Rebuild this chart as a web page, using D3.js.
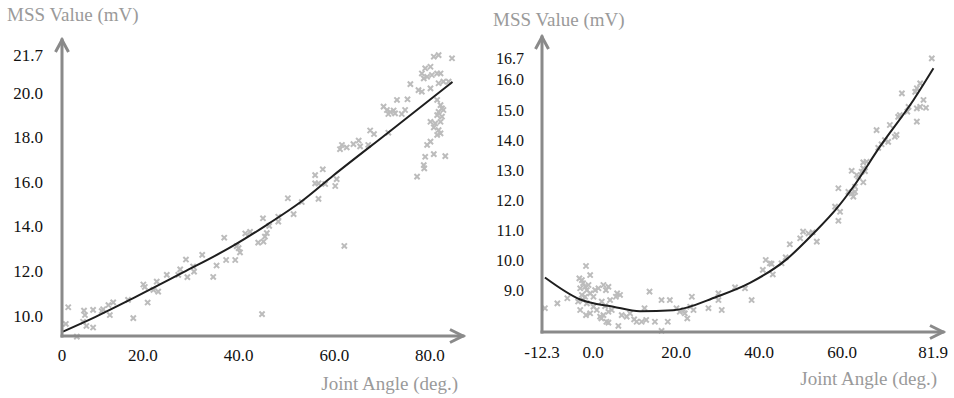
<!DOCTYPE html>
<html><head><meta charset="utf-8">
<script src="https://cdn.jsdelivr.net/npm/d3@7"></script>
<style>body{margin:0;background:#fff}svg{display:block}</style>
</head><body><svg id="c" width="954" height="398"></svg>
<script>
// ---------- data ----------
const yTitle = "MSS Value (mV)";
const xTitle = "Joint Angle (deg.)";

const leftXTicks = [3.1, 20, 40, 60, 80];
const leftXTickLabels = ["0", "20.0", "40.0", "60.0", "80.0"];
const leftYTicks = [21.7, 20, 18, 16, 14, 12, 10];

const rightXTicks = [-12.3, 0, 20, 40, 60, 81.9];
const rightXTickLabels = ["-12.3", "0.0", "20.0", "40.0", "60.0", "81.9"];
const rightYTicks = [16.7, 16, 15, 14, 13, 12, 11, 10, 9];

// [joint angle, MSS value]
const leftPoints = [
[4.4,10.39],[3.9,9.64],[7.7,10.24],[7.9,10.04],[7.5,9.74],[8.2,9.55],[9.6,9.48],[9.6,10.27],[11.4,10.22],[11.7,10.30],
[12.8,10.49],[13.1,10.04],[13.8,10.61],[16.9,10.72],[18.0,9.90],[20.1,11.41],[20.4,11.30],[21.0,10.60],[22.2,11.17],[22.9,11.54],
[23.2,11.09],[25.0,11.84],[27.4,11.84],[27.8,12.09],[29.0,12.53],[29.3,11.74],[30.5,12.22],[30.7,11.99],[32.4,12.74],[34.7,11.75],
[35.4,12.26],[37.0,13.51],[37.4,12.51],[39.3,12.51],[39.6,13.13],[40.0,13.04],[40.3,12.85],[41.4,13.70],[42.4,13.77],[44.1,13.29],
[44.9,10.08],[45.1,14.38],[45.2,13.33],[45.5,13.56],[45.9,13.72],[46.4,14.04],[48.3,14.45],[48.3,14.23],[50.3,15.28],[51.5,14.57],
[53.2,15.11],[56.0,16.32],[56.0,15.95],[56.7,15.95],[56.7,15.25],[57.6,16.58],[58.1,15.92],[60.2,15.83],[60.5,16.14],[62.1,13.14],
[61.2,17.48],[61.6,17.67],[62.6,17.56],[64.0,17.71],[65.1,17.87],[65.4,17.61],[67.1,17.67],[67.5,18.32],[68.3,18.16],[70.3,19.39],
[71.0,19.24],[71.7,19.15],[72.4,19.22],[71.3,19.06],[72.7,19.09],[71.3,18.22],[73.1,19.69],[74.1,19.06],[74.8,19.24],[75.3,19.72],
[75.9,20.40],[77.6,20.13],[78.3,20.06],[80.1,20.21],[77.3,16.25],[79.0,21.11],[80.1,21.18],[78.3,20.88],[78.7,20.66],[79.4,20.73],
[80.4,20.81],[81.5,20.88],[82.2,20.88],[80.8,21.63],[81.8,21.70],[84.6,21.56],[81.8,20.44],[82.8,20.51],[83.9,20.51],[81.5,19.69],
[82.2,19.46],[82.5,19.31],[81.8,19.16],[82.8,19.24],[81.5,19.01],[82.5,18.94],[82.2,18.71],[81.1,18.64],[80.1,18.71],[80.8,18.46],
[81.8,18.34],[82.2,18.19],[81.5,18.12],[80.1,17.82],[79.4,17.67],[79.0,17.14],[80.8,17.26],[83.2,17.17],[78.7,16.77],[78.8,16.62],
[6.2,9.07]
];
const leftTrend = [
[3.3,9.30],[10,9.95],[18,10.80],[28.4,11.95],[38.9,13.15],[46,14.10],[52.9,15.10],[59.8,16.30],[71.7,18.30],[84.7,20.50]
];

const rightPoints = [
[-11.6,8.43],[-8.6,8.59],[-6.2,8.76],[-1.7,9.83],[-0.7,9.53],[-3.3,9.42],[-2.7,9.36],[-2.4,9.26],[-3.1,9.09],[-1.9,9.14],
[-1.1,9.20],[-1.5,9.03],[-0.7,8.92],[-2.7,8.87],[-1.9,8.81],[0.1,8.81],[0.5,9.03],[1.3,9.09],[2.5,9.20],[3.1,9.03],
[3.7,9.14],[-2.4,8.70],[-3.6,8.65],[-1.5,8.59],[-3.1,8.37],[-1.7,8.20],[-0.7,8.26],[0.1,8.48],[0.9,8.37],[2.1,8.65],
[2.9,8.50],[2.5,8.20],[1.7,8.15],[3.7,8.31],[4.5,8.37],[4.1,8.70],[5.8,8.92],[6.5,8.87],[5.5,8.81],[3.7,7.95],
[6.1,7.84],[6.9,8.20],[8.1,8.15],[8.9,8.26],[9.9,8.06],[10.5,7.98],[11.7,7.98],[12.8,8.04],[13.6,8.98],[14.9,7.98],
[16.5,7.68],[18.0,7.98],[16.5,8.70],[18.5,8.70],[20.1,8.43],[20.9,8.31],[22.1,8.26],[22.7,8.09],[23.4,8.48],[24.2,8.37],
[23.8,8.81],[21.9,8.37],[27.8,8.43],[31.0,8.37],[30.2,8.92],[30.2,8.70],[34.2,9.12],[36.6,9.09],[38.2,8.70],[3.2,7.98],
[2.0,8.09],[12.4,8.43],
[40.9,9.70],[41.6,10.03],[42.6,9.92],[43.3,9.55],[43.0,9.90],[45.4,9.92],[46.4,10.12],[47.4,10.55],[49.9,10.75],[50.6,10.97],
[51.9,10.91],[52.9,10.95],[53.9,10.64],[58.3,11.80],[59.5,11.63],[59.1,11.33],[59.1,12.41],[62.3,12.99],[63.5,12.85],[63.1,12.46],
[62.7,12.13],[81.6,16.72],[78.8,15.89],[78.0,15.73],[77.6,15.61],[74.4,15.56],[79.6,15.34],[78.8,15.11],[80.2,15.08],[78.0,15.06],
[78.0,14.62],[76.0,15.11],[75.7,14.95],[73.5,14.78],[73.9,14.84],[71.5,14.51],[72.7,14.12],[73.1,14.18],[68.3,14.34],[70.3,14.01],
[71.1,13.95],[69.5,13.87],[68.7,13.75],[65.9,13.29],[65.1,13.27],[65.1,13.07],[64.7,12.96],[65.5,12.98],[63.9,12.79],[65.1,12.61],
[63.1,12.29],[61.5,12.29],[62.3,12.24]
];
const rightTrend = [
[-11.6,9.45],[-3.1,8.72],[4.9,8.48],[11.3,8.33],[19.3,8.36],[29.8,8.81],[37.8,9.27],[46.6,10.05],[53.1,10.91],[58.7,11.74],
[62.7,12.46],[69.1,13.79],[77.2,15.34],[82.0,16.39]
];

// ---------- drawing ----------
const FONT = "Liberation Serif";
const svg = d3.select("#c");
const AXIS = "#8a8a8a", PT = "#bcbcbc", TITLE = "#9a9a9a";

function panel(o) {
  const g = svg.append("g");
  const x = d3.scaleLinear().domain(o.xDomain).range(o.xRange);
  const y = d3.scaleLinear().domain(o.yDomain).range(o.yRange);
  const x0 = o.xRange[0], x1 = o.xRange[1], y0 = o.yRange[0], y1 = o.yRange[1];

  // points
  const s = 2.6;
  g.append("g").selectAll("path").data(o.points).join("path")
    .attr("d", d => {
      const px = x(d[0]), py = y(d[1]);
      const p = d3.path();
      p.moveTo(px - s, py - s); p.lineTo(px + s, py + s);
      p.moveTo(px - s, py + s); p.lineTo(px + s, py - s);
      return p.toString();
    })
    .attr("stroke", PT).attr("stroke-width", 2).attr("fill", "none");

  // trend
  g.append("path").datum(o.trend)
    .attr("d", d3.line().x(d => x(d[0])).y(d => y(d[1])).curve(d3.curveMonotoneX))
    .attr("fill", "none").attr("stroke", "#1e1e1e").attr("stroke-width", 2);

  // axes
  g.append("line").attr("x1", x0).attr("y1", y0).attr("x2", x1).attr("y2", y0)
    .attr("stroke", AXIS).attr("stroke-width", 3).attr("stroke-linecap", "square");
  g.append("line").attr("x1", x0).attr("y1", y0).attr("x2", x0).attr("y2", y1)
    .attr("stroke", AXIS).attr("stroke-width", 3).attr("stroke-linecap", "square");
  const ap = d3.path();
  ap.moveTo(x1 - 13, y0 - 6.5); ap.lineTo(x1, y0); ap.lineTo(x1 - 13, y0 + 6.5);
  ap.moveTo(x0 - 6.5, y1 + 12); ap.lineTo(x0, y1); ap.lineTo(x0 + 6.5, y1 + 12);
  g.append("path").attr("d", ap.toString()).attr("fill", "none")
    .attr("stroke", AXIS).attr("stroke-width", 3).attr("stroke-linejoin", "miter");

  // tick labels
  g.append("g").selectAll("text").data(o.xTicks).join("text")
    .attr("font-family", FONT)
    .attr("x", d => x(d)).attr("y", y0 + o.xLabelDy)
    .attr("text-anchor", "middle").attr("font-size", 17).attr("fill", "#111")
    .text((d, i) => o.xTickLabels[i]);
  g.append("g").selectAll("text").data(o.yTicks).join("text")
    .attr("font-family", FONT)
    .attr("x", x0 - o.yLabelDx).attr("y", d => y(d)).attr("dy", "0.33em")
    .attr("text-anchor", "end").attr("font-size", o.yFont).attr("fill", "#111")
    .text(d => d.toFixed(1));

  // titles
  g.append("text").attr("font-family", FONT).attr("x", o.yTitlePos[0]).attr("y", o.yTitlePos[1])
    .attr("font-size", 19).attr("fill", TITLE).text(yTitle);
  g.append("text").attr("font-family", FONT).attr("x", o.xTitlePos[0]).attr("y", o.xTitlePos[1])
    .attr("text-anchor", "end").attr("font-size", 19).attr("fill", TITLE).text(xTitle);
}

panel({
  xDomain: [3.1, 86.9], xRange: [62, 463],
  yDomain: [9.1, 22.38], yRange: [336, 40],
  points: leftPoints, trend: leftTrend,
  xTicks: leftXTicks, xTickLabels: leftXTickLabels, yTicks: leftYTicks,
  xLabelDy: 25, yLabelDx: 19, yFont: 17,
  yTitlePos: [7, 21], xTitlePos: [458, 390]
});
panel({
  xDomain: [-12.3, 84.3], xRange: [542, 943],
  yDomain: [7.64, 17.43], yRange: [332, 37],
  points: rightPoints, trend: rightTrend,
  xTicks: rightXTicks, xTickLabels: rightXTickLabels, yTicks: rightYTicks,
  xLabelDy: 26, yLabelDx: 18, yFont: 16,
  yTitlePos: [493, 26], xTitlePos: [937, 385]
});
</script></body></html>
